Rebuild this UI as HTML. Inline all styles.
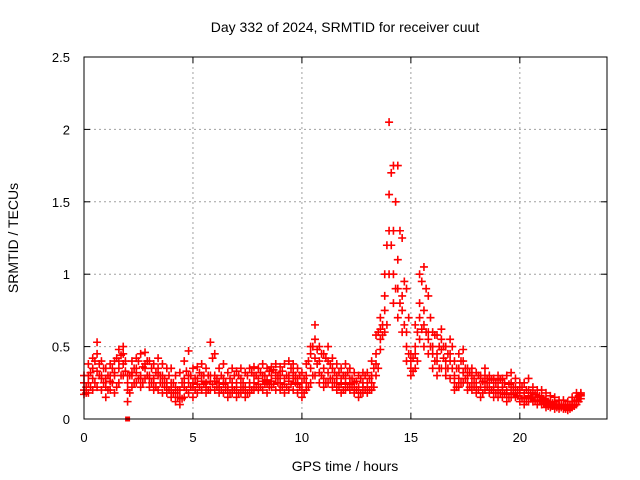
<!DOCTYPE html>
<html><head><meta charset="utf-8"><style>
html,body{margin:0;padding:0;background:#fff;}
svg{display:block;font-family:"Liberation Sans",sans-serif;}
</style></head><body>
<svg id="chart" width="640" height="480" viewBox="0 0 640 480" xmlns="http://www.w3.org/2000/svg">
<rect width="640" height="480" fill="#fff"/>
<text x="345" y="32" font-size="14" text-anchor="middle">Day 332 of 2024, SRMTID for receiver cuut</text>
<g id="grid"></g>
<g id="marks"></g>
<rect x="84" y="57" width="523" height="362" fill="none" stroke="#000" stroke-width="1"/>
<g id="axes"></g>
<text x="345" y="471" font-size="14" text-anchor="middle">GPS time / hours</text>
<text x="18" y="238" font-size="14" text-anchor="middle" transform="rotate(-90 18 238)">SRMTID / TECUs</text>
</svg>
<script>
const xTicks=[0,5,10,15,20];
const yTicks=[0,0.5,1,1.5,2,2.5];
const yTickLabels=["0","0.5","1","1.5","2","2.5"];
const timeStep=0.2;
const seriesA=[.25,.3,.35,.45,.3, .28,.3,.32,.4,.45, .2,.32,.35,.3,.38, .3,.28,.35,.3,.25, .25,.22,.2,.28,.3, .25,.28,.3,.25,.3, .3,.25,.28,.22,.25, .25,.28,.22,.25,.3, .28,.3,.27,.3,.32, .3,.28,.3,.32,.28, .25,.3,.45,.55,.4, .35,.4,.35,.3,.28, .3,.28,.25,.22,.25, .25,.3,.45,.62,.85, 1.55,1.3,1.1,.85,.5, .35,.5,.8,.75,.6, .5,.45,.55,.4,.45, .3,.35,.4,.3,.3, .25,.28,.3,.25,.22, .25,.22,.2,.25,.22, .2,.18,.2,.18,.15, .15,.13,.12,.12,.1, .1,.1,.12,.15,.17];
const seriesB=[.17,.18,.2,.22,.2, .15,.2,.18,.25,.3, .12,.22,.25,.22,.28, .22,.2,.2,.18,.18, .15,.12,.1,.15,.18, .15,.18,.2,.18,.2, .2,.18,.18,.15,.18, .15,.18,.15,.18,.2, .2,.2,.18,.22,.2, .2,.18,.2,.2,.18, .15,.2,.25,.3,.25, .22,.25,.22,.2,.18, .2,.2,.18,.15,.18, .18,.2,.3,.48,.6, 1.0,.8,.7,.6,.4, .3,.35,.55,.5,.45, .35,.3,.35,.3,.28, .2,.22,.25,.2,.2, .18,.15,.2,.18,.15, .15,.15,.12,.15,.15, .12,.1,.12,.12,.1, .1,.08,.08,.07,.07, .07,.06,.08,.1,.14];
const seriesC=[.3,.38,.42,.53,.4, .35,.38,.4,.48,.5, .3,.4,.42,.45,.46, .4,.38,.42,.38,.35, .35,.3,.32,.4,.47, .35,.36,.38,.35,.53, .45,.35,.38,.32,.35, .33,.35,.32,.35,.36, .35,.38,.35,.36,.38, .36,.38,.4,.38,.35, .32,.38,.5,.65,.5, .45,.5,.42,.38,.35, .38,.35,.32,.3,.32, .32,.4,.58,.7,1.0, 2.05,1.75,1.75,1.25,.9, .45,.65,1.0,1.05,.85, .6,.58,.62,.5,.55, .4,.45,.48,.35,.35, .32,.3,.35,.3,.28, .3,.28,.3,.32,.28, .25,.25,.28,.22,.2, .2,.18,.16,.15,.13, .13,.12,.15,.18,.18];
const seriesD=[.2,.25,.28,.33,.28, .22,.26,.3,.35,.38, .25,.3,.32,.28,.35, .28,.25,.3,.25,.22, .2,.18,.15,.22,.25, .22,.24,.26,.22,.26, .26,.22,.24,.2,.22, .2,.22,.2,.22,.25, .24,.26,.25,.26,.28, .25,.24,.26,.28,.24, .2,.25,.35,.42,.32, .28,.32,.28,.25,.24, .25,.24,.2,.2,.22, .22,.25,.38,.55,.75, 1.3,1.0,.9,.75,.6, .4,.45,.7,.65,.55, .45,.4,.48,.35,.4, .25,.28,.32,.25,.25, .22,.22,.25,.2,.2, .2,.2,.18,.2,.18, .18,.15,.16,.15,.13, .13,.11,.1,.1,.09, .09,.08,.1,.13,.16];
// offset series sampled at half steps (t = 0.1, 0.3, ...)
const seriesE=[.22,.32,.4,.38,.35, .3,.35,.42,.44,.4, .3,.35,.4,.36,.4, .35,.32,.3,.28,.3, .25,.2,.25,.33,.3, .28,.32,.3,.3,.42, .28,.3,.25,.28,.3, .3,.25,.3,.32,.3, .32,.3,.33,.34,.3, .33,.3,.35,.3,.3, .28,.4,.5,.48,.45, .42,.38,.32,.32,.3, .32,.28,.26,.28,.3, .28,.35,.6,.65,1.2, 1.7,1.5,1.3,.95,.7, .42,.6,.95,.9,.7, .58,.5,.5,.45,.5, .35,.4,.35,.32,.28, .3,.26,.28,.27,.25, .27,.25,.24,.22,.2, .22,.2,.18,.17,.16, .14,.12,.11,.1,.1, .09,.1,.12,.16];
const seriesF=[.18,.22,.25,.3,.25, .2,.25,.22,.3,.33, .18,.25,.28,.25,.3, .25,.22,.25,.22,.2, .18,.15,.14,.2,.22, .2,.22,.24,.2,.24, .22,.2,.2,.18,.2, .18,.2,.18,.2,.22, .22,.24,.22,.24,.25, .22,.22,.24,.25,.22, .18,.22,.3,.38,.3, .25,.28,.25,.22,.2, .22,.22,.2,.18,.2, .2,.22,.35,.58,.65, 1.2,.9,.8,.65,.45, .33,.4,.62,.6,.5, .4,.35,.42,.35,.35, .22,.25,.28,.22,.22, .2,.18,.22,.2,.18, .18,.17,.15,.17,.16, .14,.12,.14,.13,.12, .11,.09,.09,.08,.08, .07,.07,.09,.12];
const markerPoint=[2,0];

const NS="http://www.w3.org/2000/svg";
const X0=84,X1=607,Y0=419,Y1=57,XMAX=24,YMAX=2.5;
function sx(v){return X0+(X1-X0)*v/XMAX;}
function sy(v){return Y0-(Y0-Y1)*v/YMAX;}
function mk(tag,attrs,parent){const e=document.createElementNS(NS,tag);for(const k in attrs)e.setAttribute(k,attrs[k]);parent.appendChild(e);return e;}
const grid=document.getElementById('grid'),axes=document.getElementById('axes'),marks=document.getElementById('marks');
xTicks.forEach(t=>{
  const x=sx(t);
  if(t>0){const g=mk('line',{x1:x,x2:x,y1:Y0,y2:Y1,stroke:'#a0a0a0','stroke-dasharray':'2,3'},grid);
  
  }
  mk('line',{x1:x,x2:x,y1:Y0,y2:Y0-6,stroke:'#000'},axes);
  mk('line',{x1:x,x2:x,y1:Y1,y2:Y1+6,stroke:'#000'},axes);
  const l=mk('text',{x:x,y:Y0+23,'font-size':'13','text-anchor':'middle'},axes);
  l.textContent=String(t);
  
  
});
yTicks.forEach((t,i)=>{
  const y=sy(t);
  if(t>0&&t<YMAX){const g=mk('line',{x1:X0,x2:X1,y1:y,y2:y,stroke:'#a0a0a0','stroke-dasharray':'2,3'},grid);
  
  }
  mk('line',{x1:X0,x2:X0+6,y1:y,y2:y,stroke:'#000'},axes);
  mk('line',{x1:X1,x2:X1-6,y1:y,y2:y,stroke:'#000'},axes);
  const l=mk('text',{x:X0-14,y:y+5,'font-size':'13','text-anchor':'end'},axes);
  l.textContent=yTickLabels[i];
  
  
});
function plus(x,y,col){
  const p=mk('path',{d:`M${x-4},${y}H${x+4}M${x},${y-4}V${y+4}`,stroke:col,'stroke-width':'1.6',fill:'none'},marks);
  
  
}
[seriesA,seriesB,seriesC,seriesD].forEach(s=>{
  s.forEach((v,i)=>{plus(sx(i*timeStep),sy(v),'#ff0000');});
});
[seriesE,seriesF].forEach(s=>{
  s.forEach((v,i)=>{plus(sx(i*timeStep+timeStep/2),sy(v),'#ff0000');});
});
const sq=mk('rect',{x:sx(markerPoint[0])-2.5,y:sy(markerPoint[1])-2.5,width:5,height:5,fill:'#ff0000'},marks);


</script>
</body></html>
